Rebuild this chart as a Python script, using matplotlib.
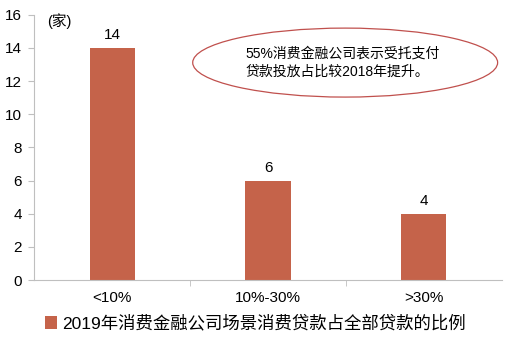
import matplotlib.pyplot as plt
from matplotlib.patches import Ellipse

plt.rcParams['font.family'] = ['Liberation Sans', 'Noto Sans CJK SC', 'DejaVu Sans']

categories = ['<10%', '10%-30%', '>30%']
values = [14, 6, 4]
series_name = '2019年消费金融公司场景消费贷款占全部贷款的比例'
note = '55%消费金融公司表示受托支付\n贷款投放占比较2018年提升。'
unit = '(家)'

BAR = '#C5634A'
GRID = '#BFBFBF'

fig = plt.figure(figsize=(5.1, 3.45), dpi=100)
ax = fig.add_axes([0.067, 0.188, 0.917, 0.769])

x = range(len(categories))
bars = ax.bar(x, values, width=0.29, color=BAR, label=series_name)
for xi, v in zip(x, values):
    ax.text(xi, v + 0.35, str(v), ha='center', va='bottom', fontsize=11)

ax.set_xlim(-0.5, len(categories) - 0.5)
ax.set_ylim(0, 16)
ax.set_yticks(range(0, 17, 2))
ax.set_xticks(list(x))
ax.set_xticklabels(categories, fontsize=11)
ax.tick_params(axis='y', labelsize=11, length=4, color=GRID, pad=5)
ax.tick_params(axis='x', length=0, pad=8)
ax.set_xticks([0.5, 1.5], minor=True)
ax.tick_params(axis='x', which='minor', length=4, color=GRID)
for s in ['top', 'right']:
    ax.spines[s].set_visible(False)
ax.spines['left'].set_color(GRID)
ax.spines['bottom'].set_color(GRID)

ax.text(0.028, 0.975, unit, transform=ax.transAxes, fontsize=10.5, ha='left', va='center')

ell = Ellipse((0.665, 0.82), 0.652, 0.26, transform=ax.transAxes,
              fill=False, edgecolor='#C0504D', lw=0.9)
ax.add_patch(ell)
ax.text(0.452, 0.82, note, transform=ax.transAxes, fontsize=10,
        ha='left', va='center', linespacing=1.45)

fig.legend(handles=[bars], labels=[series_name], loc='center', bbox_to_anchor=(0.5, 0.063),
           frameon=False, fontsize=12.5, handlelength=0.7, handleheight=0.7, handletextpad=0.3)

fig.savefig('out.png', dpi=100)
